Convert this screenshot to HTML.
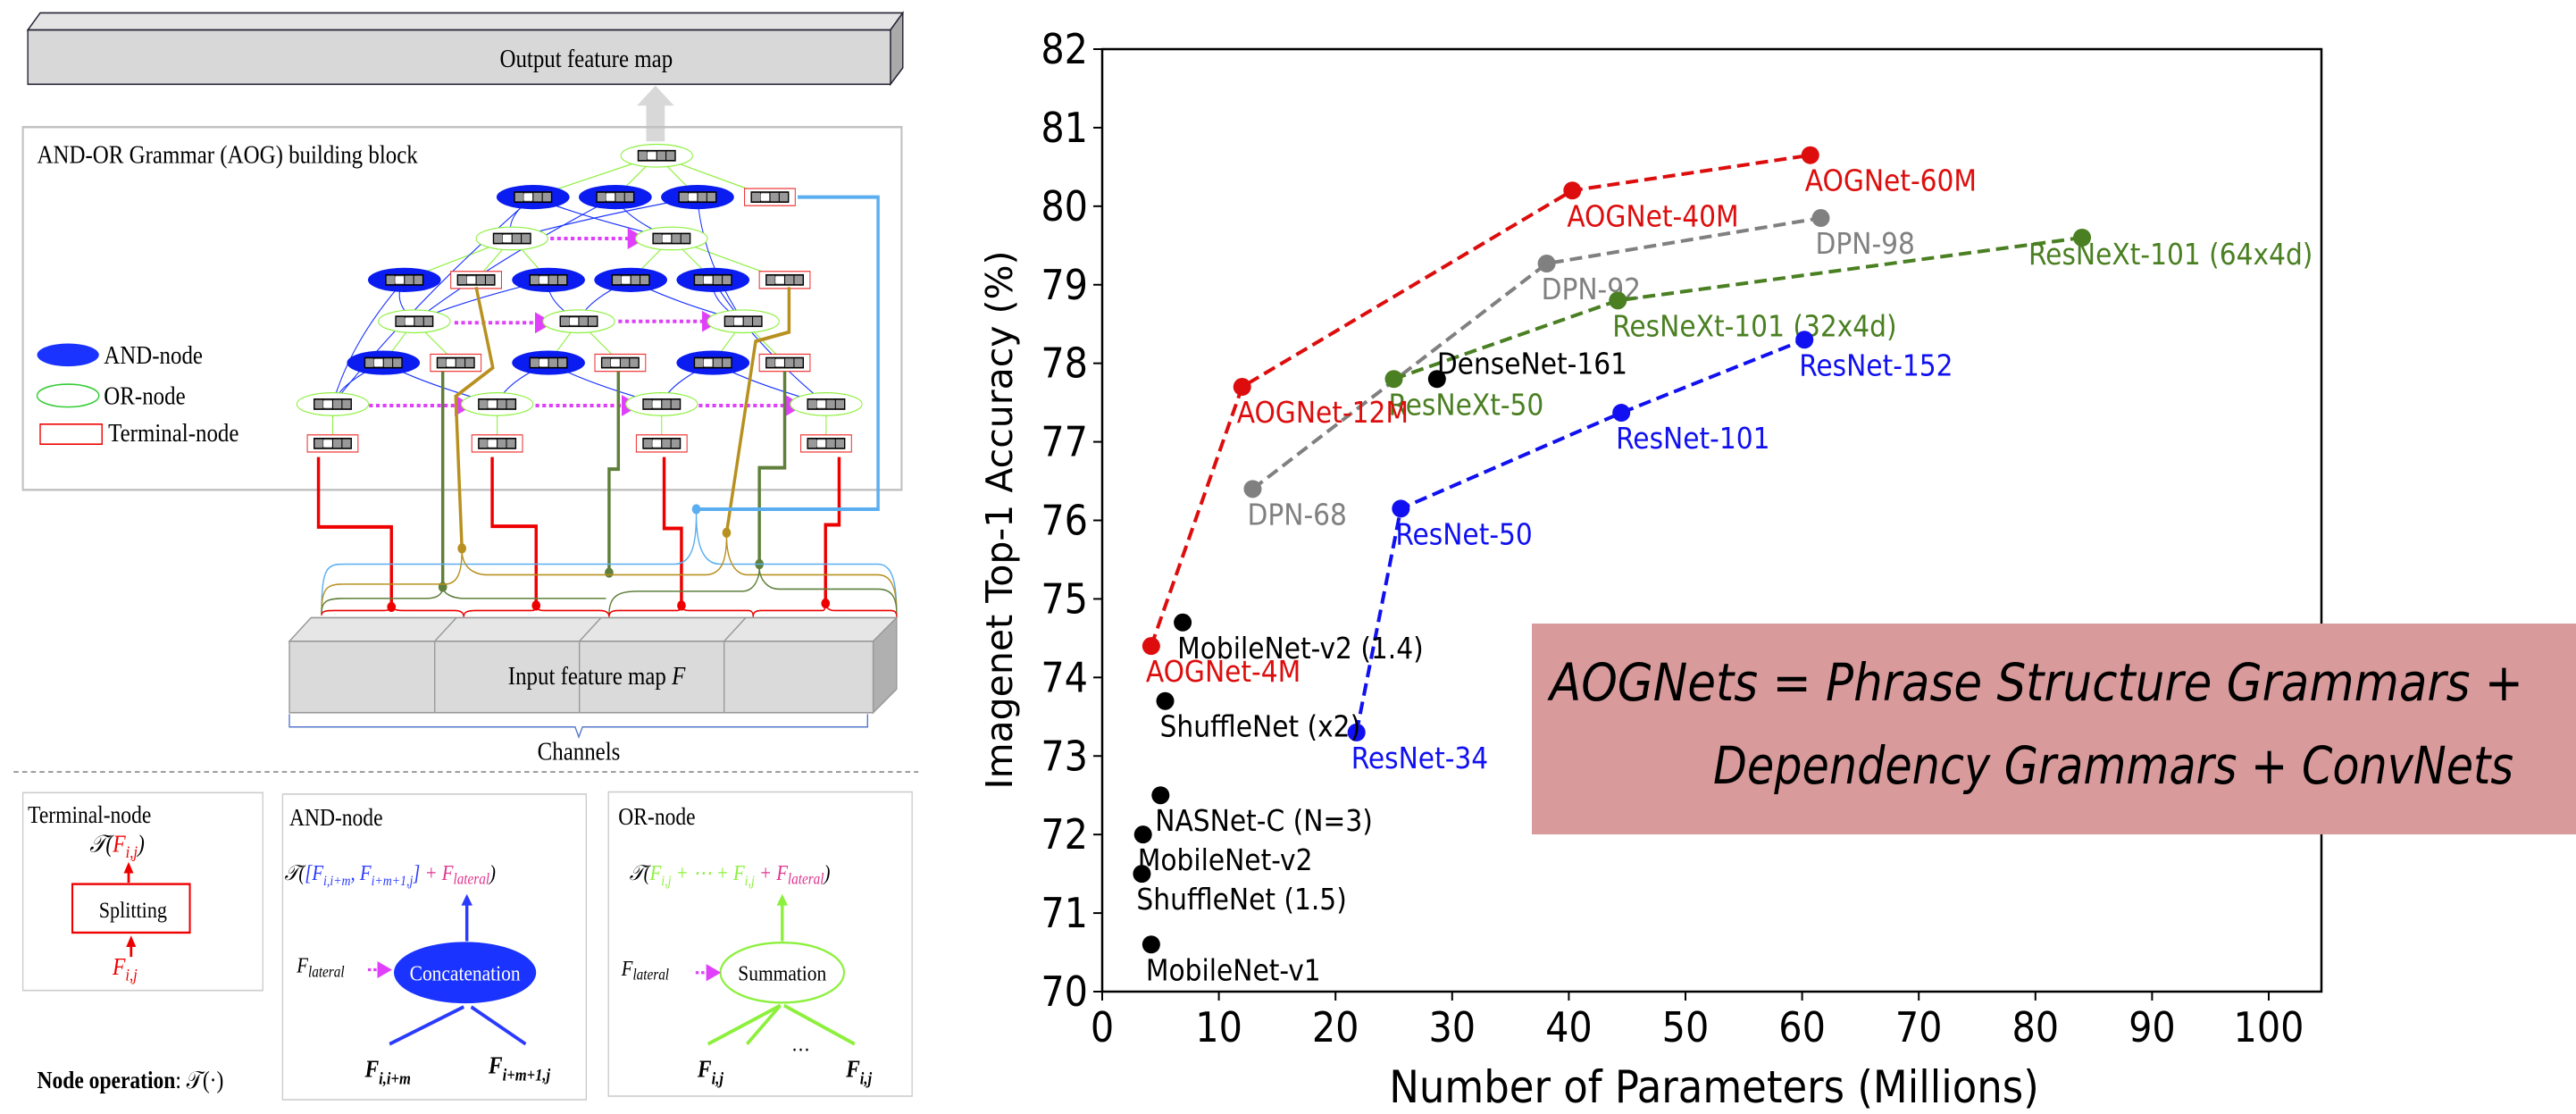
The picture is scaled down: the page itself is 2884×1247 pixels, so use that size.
<!DOCTYPE html>
<html><head><meta charset="utf-8">
<style>
html,body{margin:0;padding:0;background:#fff;}
body{width:2884px;height:1247px;overflow:hidden;position:relative;}
svg{position:absolute;top:0;}
</style></head>
<body>
<svg id="diag" style="left:0" width="1080" height="1247" viewBox="0 0 1560 1560" preserveAspectRatio="none" xmlns="http://www.w3.org/2000/svg">
  <defs>
    <marker id="am" markerWidth="6" markerHeight="6" refX="5" refY="3" orient="auto"><path d="M0,0 L6,3 L0,6z" fill="#e040fb"/></marker>
    <marker id="ar" markerWidth="4" markerHeight="4" refX="2" refY="2" orient="auto"><path d="M0,0 L4,2 L0,4z" fill="#e00"/></marker>
  </defs>
  <g>
    <polygon points="45,42 65,18 1460,18 1440,42" fill="#e4e4e4" stroke="#223" stroke-width="2"/>
    <polygon points="1440,42 1460,18 1460,95 1440,118" fill="#aaa" stroke="#223" stroke-width="2"/>
    <rect x="45" y="42" width="1395" height="76" fill="#d8d8d8" stroke="#223" stroke-width="2"/>
    <text x="948" y="94" font-family="Liberation Serif" font-size="36" text-anchor="middle">Output feature map</text>
  </g>
  <polygon points="1045,198 1045,148 1030,148 1060,120 1090,148 1075,148 1075,198" fill="#d8d8d8"/>
  <rect x="37" y="178" width="1421" height="508" fill="none" stroke="#c0c0c0" stroke-width="3"/>
  <text x="60" y="228" font-family="Liberation Serif" font-size="36">AND-OR Grammar (AOG) building block</text>
  <g font-family="Liberation Serif" font-size="36">
    <ellipse cx="110" cy="497" rx="50" ry="16" fill="#1a33ff"/><text x="168" y="509">AND-node</text>
    <ellipse cx="110" cy="554" rx="50" ry="16" fill="none" stroke="#3c3" stroke-width="2"/><text x="168" y="566">OR-node</text>
    <rect x="65" y="594" width="100" height="28" fill="none" stroke="#e00" stroke-width="2"/><text x="175" y="618">Terminal-node</text>
  </g>
  <g id="edges" fill="none"></g>
  <g id="nodes"></g>
  <g fill="none" stroke-width="5">
    <polyline stroke="#e00" points="515,640 515,738 633,738 633,850"/>
    <polyline stroke="#e00" points="796,640 796,737 867,737 867,848"/>
    <polyline stroke="#e00" points="1074,640 1074,740 1102,740 1102,848"/>
    <polyline stroke="#e00" points="1357,640 1357,735 1335,735 1335,845"/>
    <polyline stroke="#5f7f3a" points="716,520 716,822"/>
    <polyline stroke="#5f7f3a" points="1000,520 1000,657 985,657 985,802"/>
    <polyline stroke="#5f7f3a" points="1269,520 1269,655 1228,655 1228,790"/>
    <polyline stroke="#b8901f" points="770,402 797,515 737,555 747,768"/>
    <polyline stroke="#b8901f" points="1276,402 1276,465 1222,478 1175,746"/>
    <polyline stroke="#5aaef0" points="1126,713 1420,713 1420,276 1290,276"/>
  </g>
  <g>
    <circle cx="633" cy="850" r="7" fill="#e00"/><circle cx="867" cy="848" r="7" fill="#e00"/><circle cx="1102" cy="848" r="7" fill="#e00"/><circle cx="1335" cy="845" r="7" fill="#e00"/>
    <circle cx="716" cy="822" r="7" fill="#5f7f3a"/><circle cx="985" cy="802" r="7" fill="#5f7f3a"/><circle cx="1228" cy="790" r="7" fill="#5f7f3a"/>
    <circle cx="747" cy="768" r="7" fill="#b8901f"/><circle cx="1175" cy="746" r="7" fill="#b8901f"/><circle cx="1126" cy="713" r="7" fill="#5aaef0"/>
  </g>
  <g fill="none" stroke-width="2">
    <path stroke="#5aaef0" d="M520,860 C520,790 530,790 560,790 L1090,790 C1120,790 1126,760 1126,720 C1126,760 1135,790 1165,790 L1420,790 C1445,790 1450,820 1450,860"/>
    <path stroke="#b8901f" d="M520,860 C520,820 530,818 560,818 L720,818 C745,818 747,790 747,770 C747,790 760,805 790,805 L1140,805 C1170,805 1175,780 1175,750 C1175,780 1185,805 1210,805 L1420,805 C1445,805 1450,830 1450,860"/>
    <path stroke="#5f7f3a" d="M520,860 C520,840 530,838 560,838 L690,838 C710,838 716,830 716,822 C716,830 730,838 750,838 L980,838 M985,860 C985,835 1000,828 1030,828 L1200,828 C1220,828 1228,810 1228,795 C1228,810 1240,825 1260,825 L1420,825 C1445,825 1450,840 1450,860"/>
    <path stroke="#e00" d="M520,862 C520,856 525,855 540,855 L620,855 C630,855 633,852 633,850 C633,852 640,855 650,855 L735,855 C745,855 750,858 750,864 M750,864 C750,857 755,855 770,855 L860,855 C866,855 867,852 867,848 C867,852 870,855 880,855 L970,855 C980,855 985,858 985,864 M985,864 C985,857 990,855 1000,855 L1095,855 C1100,855 1102,852 1102,848 C1102,852 1105,855 1115,855 L1210,855 C1216,855 1218,858 1218,864 M1218,864 C1218,857 1222,855 1232,855 L1330,855 C1334,855 1335,850 1335,845 C1335,850 1340,855 1350,855 L1440,855 C1448,855 1450,858 1450,864"/>
  </g>
  <g>
    <polygon points="468,898 503,865 1450,865 1412,898" fill="#e6e6e6" stroke="#999" stroke-width="2"/>
    <polygon points="1412,898 1450,865 1450,965 1412,998" fill="#b0b0b0" stroke="#999" stroke-width="2"/>
    <rect x="468" y="898" width="944" height="100" fill="#dadada" stroke="#999" stroke-width="2"/>
    <line x1="703" y1="898" x2="703" y2="998" stroke="#999" stroke-width="2"/><line x1="937" y1="898" x2="937" y2="998" stroke="#999" stroke-width="2"/><line x1="1171" y1="898" x2="1171" y2="998" stroke="#999" stroke-width="2"/>
    <line x1="703" y1="898" x2="738" y2="865" stroke="#999" stroke-width="2"/><line x1="937" y1="898" x2="972" y2="865" stroke="#999" stroke-width="2"/><line x1="1171" y1="898" x2="1206" y2="865" stroke="#999" stroke-width="2"/>
    <text x="965" y="958" font-family="Liberation Serif" font-size="36" text-anchor="middle">Input feature map <tspan font-style="italic">F</tspan></text>
  </g>
  <path d="M468,1000 L468,1018 L930,1018 L936,1032 L942,1018 L1403,1018 L1403,1000" fill="none" stroke="#5577cc" stroke-width="2"/>
  <text x="936" y="1064" font-family="Liberation Serif" font-size="36" text-anchor="middle">Channels</text>
  <line x1="22" y1="1081" x2="1485" y2="1081" stroke="#888" stroke-width="2" stroke-dasharray="8,6"/>
  <g font-family="Liberation Serif">
    <rect x="37" y="1110" width="388" height="277" fill="none" stroke="#ccc" stroke-width="2"/>
    <text x="45" y="1152" font-size="34">Terminal-node</text>
    <text x="145" y="1193" font-size="34" font-style="italic">𝒯(<tspan fill="#e00">F<tspan font-size="24" dy="8">i,j</tspan></tspan><tspan dy="-8">)</tspan></text>
    <line x1="208" y1="1236" x2="208" y2="1215" stroke="#e00" stroke-width="4" marker-end="url(#ar)"/>
    <rect x="117" y="1238" width="190" height="68" fill="none" stroke="#e00" stroke-width="3"/>
    <text x="215" y="1285" font-size="32" text-anchor="middle">Splitting</text>
    <line x1="212" y1="1340" x2="212" y2="1318" stroke="#e00" stroke-width="4" marker-end="url(#ar)"/>
    <text x="182" y="1365" font-size="34" font-style="italic" fill="#e00">F<tspan font-size="24" dy="8">i,j</tspan></text>
  </g>
  <text x="60" y="1524" font-family="Liberation Serif" font-size="34"><tspan font-weight="bold">Node operation</tspan>: 𝒯(·)</text>
  <g font-family="Liberation Serif">
    <rect x="457" y="1112" width="491" height="428" fill="none" stroke="#ccc" stroke-width="2"/>
    <text x="468" y="1156" font-size="34">AND-node</text>
    <text x="460" y="1232" font-size="30" font-style="italic">𝒯(<tspan fill="#2a3aff">[F<tspan font-size="20" dy="8">i,i+m</tspan><tspan dy="-8">, F</tspan><tspan font-size="20" dy="8">i+m+1,j</tspan><tspan dy="-8">]</tspan></tspan><tspan fill="#e0358f"> + F<tspan font-size="22" dy="6">lateral</tspan></tspan><tspan dy="-6">)</tspan></text>
    <line x1="755" y1="1318" x2="755" y2="1262" stroke="#2a3aff" stroke-width="5"/>
    <polygon points="746,1268 755,1252 764,1268" fill="#2a3aff"/>
    <ellipse cx="752" cy="1362" rx="115" ry="43" fill="#1a33ff"/>
    <text x="752" y="1373" font-size="31" fill="#fff" text-anchor="middle">Concatenation</text>
    <text x="480" y="1362" font-size="30" font-style="italic">F<tspan font-size="22" dy="6">lateral</tspan></text>
    <line x1="595" y1="1358" x2="630" y2="1358" stroke="#e040fb" stroke-width="4" stroke-dasharray="5,4" marker-end="url(#am)"/>
    <line x1="630" y1="1462" x2="750" y2="1410" stroke="#2a3aff" stroke-width="5"/>
    <line x1="850" y1="1462" x2="762" y2="1410" stroke="#2a3aff" stroke-width="5"/>
    <text x="590" y="1508" font-size="34" font-weight="bold" font-style="italic">F<tspan font-size="24" dy="10">i,i+m</tspan></text>
    <text x="790" y="1503" font-size="34" font-weight="bold" font-style="italic">F<tspan font-size="24" dy="10">i+m+1,j</tspan></text>
  </g>
  <g font-family="Liberation Serif">
    <rect x="984" y="1109" width="491" height="426" fill="none" stroke="#ccc" stroke-width="2"/>
    <text x="1000" y="1155" font-size="34">OR-node</text>
    <text x="1018" y="1232" font-size="30" font-style="italic">𝒯(<tspan fill="#8cf03c">F<tspan font-size="20" dy="8">i,j</tspan><tspan dy="-8"> + ⋯ + F</tspan><tspan font-size="20" dy="8">i,j</tspan></tspan><tspan fill="#e0358f" dy="-8"> + F<tspan font-size="22" dy="6">lateral</tspan></tspan><tspan dy="-6">)</tspan></text>
    <line x1="1265" y1="1318" x2="1265" y2="1262" stroke="#8cf03c" stroke-width="5"/>
    <polygon points="1256,1268 1265,1252 1274,1268" fill="#8cf03c"/>
    <ellipse cx="1265" cy="1362" rx="100" ry="42" fill="#fff" stroke="#8cf03c" stroke-width="3"/>
    <text x="1265" y="1373" font-size="31" text-anchor="middle">Summation</text>
    <text x="1005" y="1366" font-size="30" font-style="italic">F<tspan font-size="22" dy="6">lateral</tspan></text>
    <line x1="1125" y1="1362" x2="1162" y2="1362" stroke="#e040fb" stroke-width="4" stroke-dasharray="5,4" marker-end="url(#am)"/>
    <line x1="1145" y1="1462" x2="1262" y2="1408" stroke="#8cf03c" stroke-width="5"/>
    <line x1="1208" y1="1462" x2="1262" y2="1408" stroke="#8cf03c" stroke-width="5"/>
    <line x1="1382" y1="1462" x2="1268" y2="1408" stroke="#8cf03c" stroke-width="5"/>
    <text x="1280" y="1472" font-size="30">…</text>
    <text x="1128" y="1508" font-size="34" font-weight="bold" font-style="italic">F<tspan font-size="24" dy="10">i,j</tspan></text>
    <text x="1368" y="1508" font-size="34" font-weight="bold" font-style="italic">F<tspan font-size="24" dy="10">i,j</tspan></text>
  </g>
</svg>

<svg id="chart" style="left:0" width="2884" height="1247" xmlns="http://www.w3.org/2000/svg"></svg>

<script>
const NS="http://www.w3.org/2000/svg";
const dn=document.getElementById('nodes'), de=document.getElementById('edges');
const andNodes=[[862,276],[995,276],[1128,276],[654,392],[887,392],[1020,392],[1153,392],[620,508],[887,508],[1153,508]];
const orNodes=[[1062,218],[828,334],[1086,334],[670,450],[936,450],[1202,450],[538,566],[804,566],[1070,566],[1336,566]];
const termNodes=[[1245,276],[770,392],[1269,392],[737,508],[1003,508],[1269,508],[538,621],[804,621],[1070,621],[1336,621]];
function mk(tag,attrs,parent){const e=document.createElementNS(NS,tag);for(const k in attrs)e.setAttribute(k,attrs[k]);parent.appendChild(e);return e;}
[[1062,218,862,276],[1062,218,995,276],[1062,218,1128,276],[1062,218,1245,276],
 [828,334,654,392],[828,334,770,392],[828,334,887,392],[1086,334,1020,392],[1086,334,1153,392],[1086,334,1269,392],
 [670,450,620,508],[670,450,737,508],[936,450,887,508],[936,450,1003,508],[1202,450,1153,508],[1202,450,1269,508],
 [538,566,538,621],[804,566,804,621],[1070,566,1070,621],[1336,566,1336,621]].forEach(l=>{
  const e=mk('line',{x1:l[0],y1:l[1],x2:l[2],y2:l[3],stroke:'#8cf03c','stroke-width':1.5},de);
  
  
});
[[620,508,538,566],[620,508,804,566],[887,508,804,566],[887,508,1070,566],[1153,508,1070,566],[1153,508,1336,566],
 [654,392,670,450],[654,392,538,566],[887,392,670,450],[887,392,936,450],[1020,392,936,450],[1020,392,1202,450],[1153,392,1202,450],[1153,392,1336,566],
 [862,276,828,334],[862,276,538,566],[995,276,1086,334],[995,276,670,450],[1128,276,828,334],[1128,276,1202,450],[862,276,1086,334]].forEach(l=>{
  const e=mk('path',{d:`M${l[0]},${l[1]} Q${(l[0]+l[2])/2-30},${(l[1]+l[3])/2} ${l[2]},${l[3]}`,stroke:'#1a33ff','stroke-width':1.5,fill:'none'},de);
  
  
});
[[597,568,760,568],[866,568,1030,568],[1130,568,1295,568],[735,452,890,452],[1000,450,1160,450],[890,334,1040,334]].forEach(l=>{
  const e=mk('line',{x1:l[0],y1:l[1],x2:l[2],y2:l[3],stroke:'#e040fb','stroke-width':5,'stroke-dasharray':'6,5','marker-end':'url(#am)'},de);
  
  
});
function cells(cx,cy){const g=mk('g',{},dn);mk('rect',{x:cx-30,y:cy-7,width:60,height:14,fill:'#999',stroke:'#000','stroke-width':2},g);for(let i=1;i<4;i++)mk('line',{x1:cx-30+15*i,y1:cy-7,x2:cx-30+15*i,y2:cy+7,stroke:'#000','stroke-width':1.5},g);mk('rect',{x:cx-15,y:cy-5,width:14,height:10,fill:'#fff'},g);}
andNodes.forEach(p=>{const e=mk('ellipse',{cx:p[0],cy:p[1],rx:59,ry:17,fill:'#0a1cf0'},dn);
  
  
  cells(p[0],p[1]);});
orNodes.forEach(p=>{const e=mk('ellipse',{cx:p[0],cy:p[1],rx:58,ry:16,fill:'#fff',stroke:'#8cf03c','stroke-width':1.5},dn);
  
  
  cells(p[0],p[1]);});
termNodes.forEach(p=>{const e=mk('rect',{x:p[0]-41,y:p[1]-12,width:82,height:24,fill:'#fff',stroke:'#e33','stroke-width':1.5},dn);
  
  
  cells(p[0],p[1]);});
</script>

<script>
const xTicks=[0,10,20,30,40,50,60,70,80,90,100];
const yTicks=[70,71,72,73,74,75,76,77,78,79,80,81,82];
const aogParams=[4.2,12,40.3,60.7];
const aogAcc=[74.4,77.7,80.2,80.65];
const aogLabels=["AOGNet-4M","AOGNet-12M","AOGNet-40M","AOGNet-60M"];
const dpnParams=[12.9,38.1,61.6];
const dpnAcc=[76.4,79.27,79.85];
const dpnLabels=["DPN-68","DPN-92","DPN-98"];
const resnextParams=[25,44.2,84];
const resnextAcc=[77.8,78.8,79.6];
const resnextLabels=["ResNeXt-50","ResNeXt-101 (32x4d)","ResNeXt-101 (64x4d)"];
const resnetParams=[21.8,25.6,44.5,60.2];
const resnetAcc=[73.3,76.15,77.37,78.3];
const resnetLabels=["ResNet-34","ResNet-50","ResNet-101","ResNet-152"];
const otherParams=[28.7,6.9,5.4,5,3.5,3.4,4.2];
const otherAcc=[77.8,74.7,73.7,72.5,72.0,71.5,70.6];
const otherLabels=["DenseNet-161","MobileNet-v2 (1.4)","ShuffleNet (x2)","NASNet-C (N=3)","MobileNet-v2","ShuffleNet (1.5)","MobileNet-v1"];

const L=1234,R=2599,T=55,B=1110;
const X=v=>L+(v-0)/(100)*(2540-L);
const Y=v=>B-(v-70)/(82-70)*(B-T);
const svg=document.getElementById('chart');
const N="http://www.w3.org/2000/svg";
function el(tag,a){const e=document.createElementNS(N,tag);for(const k in a)e.setAttribute(k,a[k]);svg.appendChild(e);return e;}
const FONT='"DejaVu Sans Condensed","DejaVu Sans",sans-serif';

let f=el('rect',{x:L,y:T,width:R-L,height:B-T,fill:'none',stroke:'#000','stroke-width':2.5});


xTicks.forEach(v=>{
  const t=el('line',{x1:X(v),y1:B,x2:X(v),y2:B+10,stroke:'#000','stroke-width':2});
  
  
  const s=el('text',{x:X(v),y:B+56,'font-family':FONT,'font-size':46,'text-anchor':'middle'});s.textContent=v;
  
  
});
yTicks.forEach(v=>{
  const t=el('line',{x1:L-10,y1:Y(v),x2:L,y2:Y(v),stroke:'#000','stroke-width':2});
  
  
  const s=el('text',{x:L-16,y:Y(v)+16,'font-family':FONT,'font-size':46,'text-anchor':'end'});s.textContent=v;
  
  
});
let xt=el('text',{x:1919,y:1234,'font-family':FONT,'font-size':50,'text-anchor':'middle'});xt.textContent='Number of Parameters (Millions)';


let yt=el('text',{x:0,y:0,transform:'translate(1133,582) rotate(-90)','font-family':'"DejaVu Sans",sans-serif','font-size':41,'text-anchor':'middle'});yt.textContent='Imagenet Top-1 Accuracy (%)';



function series(px,acc,labels,color,line,name,offs){
  if(line){
    const p=el('polyline',{points:px.map((v,i)=>X(v)+','+Y(acc[i])).join(' '),fill:'none',stroke:color,'stroke-width':4,'stroke-dasharray':'14,7'});
    
    
  }
  px.forEach((v,i)=>{
    const c=el('circle',{cx:X(v),cy:Y(acc[i]),r:10,fill:color});
    
    
    const o=(offs&&offs[i])||[-6,40];
    const t=el('text',{x:X(v)+o[0],y:Y(acc[i])+o[1],'font-family':FONT,'font-size':33,fill:color});t.textContent=labels[i];
    
    
  });
}
series(dpnParams,dpnAcc,dpnLabels,'#808080',true,'dpn');
series(resnextParams,resnextAcc,resnextLabels,'#4a7f22',true,'resnext',[null,null,[-60,30]]);
series(resnetParams,resnetAcc,resnetLabels,'#1010f0',true,'resnet');
series(aogParams,aogAcc,aogLabels,'#dd0d0d',true,'aognet');
series(otherParams,otherAcc,otherLabels,'#000',false,'baseline',[[0,-6]]);

let bx=el('rect',{x:1715,y:698,width:1169,height:236,fill:'#d89a9a'});


let t1=el('text',{x:1735,y:784,'font-family':'"DejaVu Sans Condensed","DejaVu Sans",sans-serif','font-style':'italic','font-weight':'300','font-size':58,textLength:1090,lengthAdjust:'spacingAndGlyphs'});t1.textContent='AOGNets = Phrase Structure Grammars +';


let t2=el('text',{x:1918,y:877,'font-family':'"DejaVu Sans Condensed","DejaVu Sans",sans-serif','font-style':'italic','font-weight':'300','font-size':58,textLength:896,lengthAdjust:'spacingAndGlyphs'});t2.textContent='Dependency Grammars + ConvNets';


</script>
</body></html>
